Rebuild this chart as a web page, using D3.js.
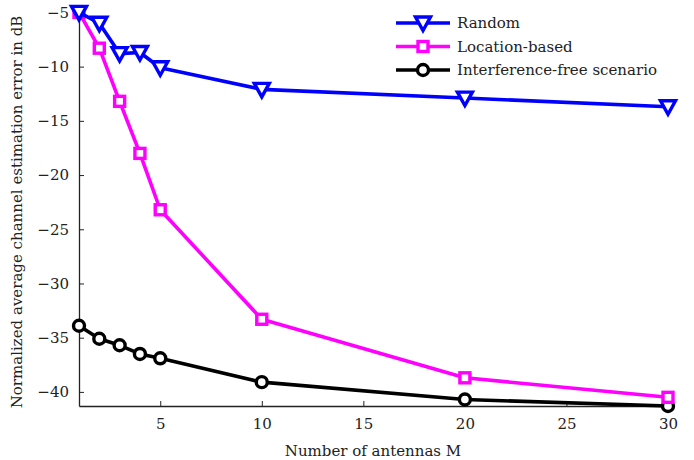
<!DOCTYPE html>
<html>
<head>
<meta charset="utf-8">
<script src="https://cdn.jsdelivr.net/npm/d3@7/dist/d3.min.js"></script>
<style>
  html, body { margin: 0; padding: 0; background: #fff; }
  svg { display: block; }
  text { font-family: "DejaVu Serif", "Liberation Serif", serif; fill: #222; }
</style>
</head>
<body>
<svg id="chart" width="694" height="460"></svg>
<script>
const antennas = [1, 2, 3, 4, 5, 10, 20, 30];
const randomVals = [-5.0, -6.0, -8.8, -8.7, -10.1, -12.1, -12.9, -13.7];
const locationVals = [-5.0, -8.3, -13.2, -18.0, -23.2, -33.3, -38.7, -40.5];
const interferenceFreeVals = [-33.9, -35.1, -35.7, -36.5, -36.9, -39.1, -40.7, -41.3];
const seriesNames = ["Random", "Location-based", "Interference-free scenario"];
const xTicks = [5, 10, 15, 20, 25, 30];
const yTicks = [-5, -10, -15, -20, -25, -30, -35, -40];
const xLabel = "Number of antennas M";
const yLabel = "Normalized average channel estimation error in dB";

const svg = d3.select("#chart");
const x = d3.scaleLinear().domain([1, 30]).range([79, 668]);
const y = d3.scaleLinear().domain([-41.3, -4.5]).range([406, 7]);

const fmt = d => (d < 0 ? "\u2212" + Math.abs(d) : String(d));

const xAxis = d3.axisBottom(x).tickValues(xTicks).tickSizeInner(-5).tickSizeOuter(0).tickPadding(12).tickFormat(fmt);
const yAxis = d3.axisLeft(y).tickValues(yTicks).tickSizeInner(-5).tickSizeOuter(0).tickPadding(10).tickFormat(fmt);

const gx = svg.append("g").attr("transform", "translate(0,406)").call(xAxis);
const gy = svg.append("g").attr("transform", "translate(79,0)").call(yAxis);
[gx, gy].forEach(g => {
  g.select(".domain").attr("stroke", "#222").attr("stroke-width", 1.3);
  g.selectAll(".tick line").attr("stroke", "#222").attr("stroke-width", 1);
  g.selectAll(".tick text").style("font-family", "'DejaVu Serif', serif").style("font-size", "15px").attr("fill", "#333");
});

svg.append("text").attr("x", 373).attr("y", 456).attr("text-anchor", "middle")
  .style("font-size", "15px").text(xLabel);
svg.append("text").attr("transform", "translate(22,212) rotate(-90)").attr("text-anchor", "middle")
  .style("font-size", "15px").text(yLabel);

const series = [
  { name: seriesNames[0], vals: randomVals, color: "#0000ff", marker: "tri" },
  { name: seriesNames[1], vals: locationVals, color: "#ff00ff", marker: "sq" },
  { name: seriesNames[2], vals: interferenceFreeVals, color: "#000000", marker: "circ" }
];

function drawMarker(g, type, cx, cy, color) {
  if (type === "tri") {
    g.append("path").attr("d", `M${cx-7.5},${cy-6} L${cx+7.5},${cy-6} L${cx},${cy+7.5} Z`)
      .attr("fill", "#fff").attr("stroke", color).attr("stroke-width", 3.4).attr("stroke-linejoin", "miter");
  } else if (type === "sq") {
    g.append("rect").attr("x", cx - 5).attr("y", cy - 5).attr("width", 10).attr("height", 10)
      .attr("fill", "#fff").attr("stroke", color).attr("stroke-width", 3.4);
  } else {
    g.append("circle").attr("cx", cx).attr("cy", cy).attr("r", 5.5)
      .attr("fill", "#fff").attr("stroke", color).attr("stroke-width", 3.4);
  }
}

const line = d3.line().x(d => x(d[0])).y(d => y(d[1]));
const plot = svg.append("g");
[series[2], series[1], series[0]].forEach(s => {
  const pts = antennas.map((a, i) => [a, s.vals[i]]);
  plot.append("path").datum(pts).attr("d", line).attr("fill", "none")
    .attr("stroke", s.color).attr("stroke-width", 3.6).attr("stroke-linejoin", "round");
  const mg = plot.append("g");
  pts.forEach(p => drawMarker(mg, s.marker, x(p[0]), y(p[1]), s.color));
});

const legendY = [23, 46.5, 70];
const lg = svg.append("g");
series.forEach((s, i) => {
  const ly = legendY[i];
  lg.append("line").attr("x1", 396).attr("x2", 450).attr("y1", ly).attr("y2", ly)
    .attr("stroke", s.color).attr("stroke-width", 3.6);
  drawMarker(lg, s.marker, 423, ly, s.color);
  lg.append("text").attr("x", 457).attr("y", ly + 5).style("font-size", "15px").text(s.name);
});
</script>
</body>
</html>
